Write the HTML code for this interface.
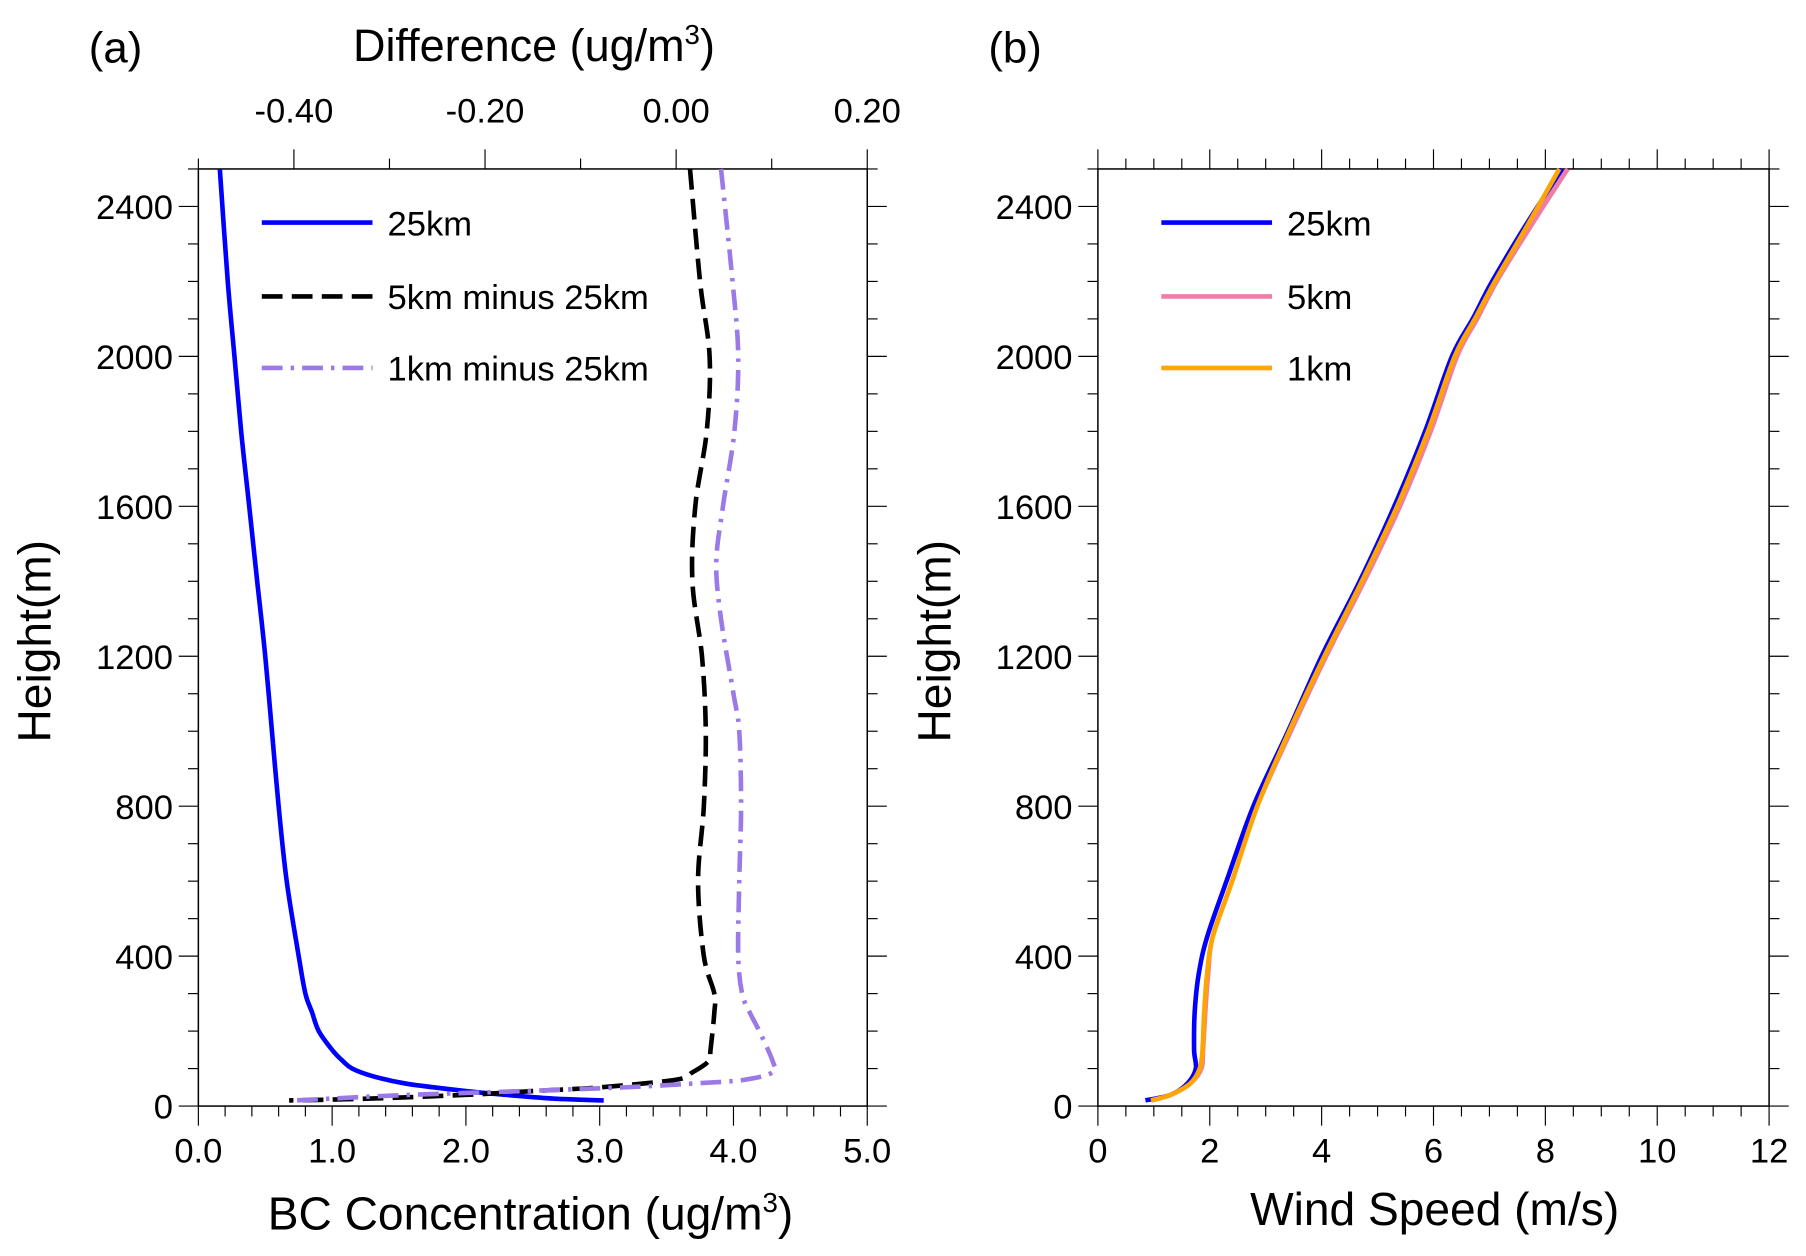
<!DOCTYPE html>
<html><head><meta charset="utf-8"><style>
html,body{margin:0;padding:0;background:#fff}
svg{display:block}
text{font-family:"Liberation Sans",sans-serif;fill:#000}
</style></head><body>
<svg id="s" width="1806" height="1256" viewBox="0 0 1566 1089" preserveAspectRatio="none"></svg>
<script>
// Panel (a) data
const heightsA = [2500,2200,2000,1800,1600,1400,1200,1000,800,600,400,300,250,200,150,120,100,80,60,40,30,20,15];
const bc25 = [0.16,0.22,0.27,0.32,0.38,0.44,0.5,0.55,0.6,0.66,0.75,0.8,0.85,0.9,1.0,1.08,1.15,1.3,1.55,2.0,2.3,2.65,3.03];
const heightsD = [2500,2200,2000,1800,1600,1400,1200,1000,800,600,400,300,250,150,120,90,70,50,40,30,20,15];
const diff5 = [0.0145,0.025,0.035,0.032,0.02,0.017,0.027,0.031,0.029,0.023,0.029,0.04,0.04,0.036,0.034,0.017,-0.001,-0.08,-0.15,-0.22,-0.32,-0.405];
const heightsP = [2500,2200,2000,1800,1600,1450,1300,1100,1000,800,600,400,300,250,200,120,90,70,60,50,40,30,20,15];
const diff1 = [0.047,0.059,0.065,0.061,0.049,0.042,0.047,0.06,0.066,0.068,0.066,0.065,0.069,0.077,0.087,0.101,0.101,0.071,0.017,-0.055,-0.16,-0.28,-0.36,-0.40];
// Panel (b) data
const heightsW = [15,30,60,100,150,250,350,450,600,800,1000,1200,1400,1600,1800,2000,2100,2200,2350,2500];
const ws25 = [0.85,1.3,1.6,1.75,1.72,1.73,1.8,1.95,2.3,2.78,3.4,4.0,4.68,5.3,5.85,6.33,6.7,7.05,7.65,8.3];
const ws5  = [0.95,1.3,1.65,1.85,1.88,1.92,1.97,2.05,2.4,2.85,3.45,4.08,4.76,5.4,5.95,6.42,6.78,7.13,7.75,8.4];
const ws1  = [0.95,1.3,1.65,1.82,1.87,1.9,1.95,2.05,2.4,2.85,3.42,4.05,4.72,5.35,5.9,6.38,6.74,7.1,7.68,8.25];

const NS="http://www.w3.org/2000/svg", S=document.getElementById('s');
function el(t,a,txt){const e=document.createElementNS(NS,t);for(const k in a)e.setAttribute(k,a[k]);if(txt!==undefined)e.textContent=txt;S.appendChild(e);return e;}
const Y0=959,Y1=146.5;
const y=h=>Y0-(h/2500)*(Y0-Y1);
const xa=v=>172+v*116;
const xd=v=>172+(v+0.5)*(580/0.7);
const xb=v=>952+v*(582/12);

function frame(L,R,name){
  const r=el('rect',{x:L,y:Y1,width:R-L,height:Y0-Y1,fill:'none',stroke:'#000','stroke-width':1.3});
  
  for(let h=0;h<=2500;h+=100){const maj=h%400==0;const len=maj?17:9;
    el('line',{x1:L-len,x2:L,y1:y(h),y2:y(h),stroke:'#000','stroke-width':1});
    el('line',{x1:R,x2:R+len,y1:y(h),y2:y(h),stroke:'#000','stroke-width':1});
    if(maj){const t=el('text',{x:L-22,y:y(h)+11,'font-size':30,'text-anchor':'end'},String(h));
      }
  }
  const yt=el('text',{transform:`translate(${L-128},${y(1240)}) rotate(-90)`,'font-size':40,'text-anchor':'middle'},'Height(m)');
  
}
function line(xs,hs,fx,color,w,dash,name){
  const P=xs.map((v,i)=>[fx(v),y(hs[i])]);
  let d=`M${P[0][0].toFixed(1)},${P[0][1].toFixed(1)}`;
  for(let i=0;i<P.length-1;i++){
    const p0=P[Math.max(0,i-1)],p1=P[i],p2=P[i+1],p3=P[Math.min(P.length-1,i+2)];
    const c1=[p1[0]+(p2[0]-p0[0])/6,p1[1]+(p2[1]-p0[1])/6];
    const c2=[p2[0]-(p3[0]-p1[0])/6,p2[1]-(p3[1]-p1[1])/6];
    d+=`C${c1[0].toFixed(1)},${c1[1].toFixed(1)} ${c2[0].toFixed(1)},${c2[1].toFixed(1)} ${p2[0].toFixed(1)},${p2[1].toFixed(1)}`;
  }
  const e=el('path',{d:d,fill:'none',stroke:color,'stroke-width':w,'stroke-linejoin':'round','stroke-dasharray':dash||'none'});
  
}
function legend(x0,yy,color,w,dash,label,name){
  const l=el('line',{x1:x0,x2:x0+96,y1:yy,y2:yy,stroke:color,'stroke-width':w,'stroke-dasharray':dash||'none'});
  
  const t=el('text',{x:x0+109,y:yy+11,'font-size':30},label);
  
}
// Panel a
frame(172,752,'panel-a');
for(let v=0;v<=5.001;v+=0.2){const maj=Math.abs(v-Math.round(v))<0.01;
  el('line',{x1:xa(v),x2:xa(v),y1:Y0,y2:Y0+(maj?17:9),stroke:'#000','stroke-width':1});
  if(maj){const t=el('text',{x:xa(v),y:1008,'font-size':30,'text-anchor':'middle'},v.toFixed(1));}}
for(let k=-5;k<=2;k++){const v=k/10;const maj=k%2==0;
  el('line',{x1:xd(v),x2:xd(v),y1:Y1-(maj?17:9),y2:Y1,stroke:'#000','stroke-width':1});
  if(maj){const t=el('text',{x:xd(v),y:106,'font-size':30,'text-anchor':'middle'},v.toFixed(2));}}
let t=el('text',{x:463,y:53,'font-size':39,'text-anchor':'middle'},'');
t.innerHTML='Difference (ug/m<tspan dy="-15" font-size="24">3</tspan><tspan dy="15">)</tspan>';

t=el('text',{x:460,y:1066,'font-size':40,'text-anchor':'middle'},'');
t.innerHTML='BC Concentration (ug/m<tspan dy="-15" font-size="24">3</tspan><tspan dy="15">)</tspan>';

t=el('text',{x:77,y:54,'font-size':38},'(a)');
line(bc25,heightsA,xa,'#0000ff',4,null,'bc-25km-line');
line(diff5,heightsD,xd,'#000',4,'18,8','diff-5km-line');
line(diff1,heightsP,xd,'#9b7ae8',4,'18,7,3,7','diff-1km-line');
legend(227,193,'#0000ff',4,null,'25km','bc-25km');
legend(227,257,'#000',4,'18,8','5km minus 25km','diff-5km');
legend(227,319,'#9b7ae8',4,'18,7,3,7','1km minus 25km','diff-1km');
// Panel b
frame(952,1534,'panel-b');
for(let k=0;k<=24;k++){const v=k/2;const maj=k%4==0;
  el('line',{x1:xb(v),x2:xb(v),y1:Y0,y2:Y0+(maj?17:9),stroke:'#000','stroke-width':1});
  el('line',{x1:xb(v),x2:xb(v),y1:Y1-(maj?17:9),y2:Y1,stroke:'#000','stroke-width':1});
  if(maj){const tt=el('text',{x:xb(v),y:1008,'font-size':30,'text-anchor':'middle'},String(v));}}
t=el('text',{x:1244,y:1062,'font-size':40,'text-anchor':'middle'},'Wind Speed (m/s)');
t=el('text',{x:857,y:54,'font-size':38},'(b)');
line(ws25,heightsW,xb,'#0000ff',4,null,'wind-25km-line');
line(ws5,heightsW,xb,'#f07ca8',4,null,'wind-5km-line');
line(ws1,heightsW,xb,'#ffa500',4,null,'wind-1km-line');
legend(1007,193,'#0000ff',4,null,'25km','wind-25km');
legend(1007,257,'#f07ca8',4,null,'5km','wind-5km');
legend(1007,319,'#ffa500',4,null,'1km','wind-1km');
</script>
</body></html>
